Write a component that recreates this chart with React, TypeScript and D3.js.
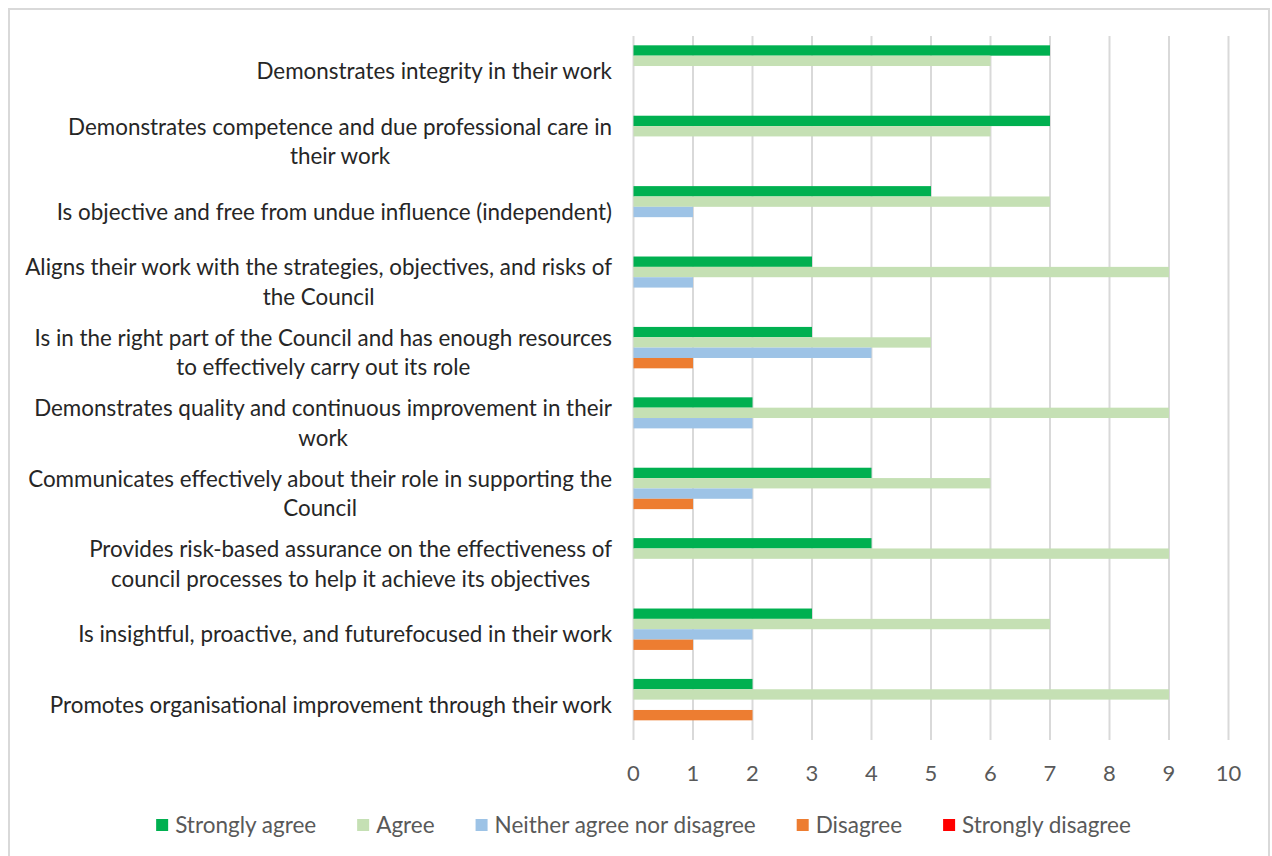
import React, { useEffect, useRef } from "react";
import * as d3 from "d3";

const categories: string[] = [
  "Demonstrates integrity in their work",
  "Demonstrates competence and due professional care in\ntheir work",
  "Is objective and free from undue influence (independent)",
  "Aligns their work with the strategies, objectives, and risks of\nthe Council",
  "Is in the right part of the Council and has enough resources\nto effectively carry out its role",
  "Demonstrates quality and continuous improvement in their\nwork",
  "Communicates effectively about their role in supporting the\nCouncil",
  "Provides risk-based assurance on the effectiveness of\ncouncil processes to help it achieve its objectives",
  "Is insightful, proactive, and futurefocused in their work",
  "Promotes organisational improvement through their work",
];

const seriesNames: string[] = [
  "Strongly agree",
  "Agree",
  "Neither agree nor disagree",
  "Disagree",
  "Strongly disagree",
];
const seriesColors: string[] = ["#00B050", "#C5E0B4", "#9DC3E6", "#ED7D31", "#FF0000"];

const stronglyAgree: number[] = [7, 7, 5, 3, 3, 2, 4, 4, 3, 2];
const agree: number[] = [6, 6, 7, 9, 5, 9, 6, 9, 7, 9];
const neither: number[] = [0, 0, 1, 1, 4, 2, 2, 0, 2, 0];
const disagree: number[] = [0, 0, 0, 0, 1, 0, 1, 0, 1, 2];
const stronglyDisagree: number[] = [0, 0, 0, 0, 0, 0, 0, 0, 0, 0];

const tickValues: number[] = [0, 1, 2, 3, 4, 5, 6, 7, 8, 9, 10];

const FONT = "Lato, 'Liberation Sans', sans-serif";

export default function App() {
  const ref = useRef<SVGSVGElement>(null);

  useEffect(() => {
    const svg = d3.select(ref.current!);
    svg.selectAll("*").remove();

    const seriesValues = [stronglyAgree, agree, neither, disagree, stronglyDisagree];

    svg.append("rect").attr("x", 0).attr("y", 0).attr("width", 1272).attr("height", 856).attr("fill", "#fff");
    svg
      .append("rect")
      .attr("x", 9)
      .attr("y", 9)
      .attr("width", 1260)
      .attr("height", 860)
      .attr("fill", "#fff")
      .attr("stroke", "#d9d9d9")
      .attr("stroke-width", 2);

    const x = d3.scaleLinear().domain([0, 10]).range([633.5, 1228.5]);
    const y = d3.scaleBand<string>().domain(categories).range([36, 740]).padding(0);
    const inner = d3
      .scaleBand<string>()
      .domain(seriesNames)
      .range([0, y.bandwidth()])
      .paddingInner(0)
      .paddingOuter(0.9);

    // gridlines
    svg
      .append("g")
      .selectAll("line")
      .data(tickValues)
      .join("line")
      .attr("x1", (d) => x(d))
      .attr("x2", (d) => x(d))
      .attr("y1", 36)
      .attr("y2", 740)
      .attr("stroke", "#d9d9d9")
      .attr("stroke-width", 2);

    // bars
    const g = svg.append("g");
    categories.forEach((c, ci) => {
      seriesNames.forEach((s, si) => {
        const v = seriesValues[si][ci];
        if (v <= 0) return;
        g.append("rect")
          .attr("x", x(0))
          .attr("y", (y(c) as number) + (inner(s) as number))
          .attr("width", x(v) - x(0))
          .attr("height", inner.bandwidth())
          .attr("fill", seriesColors[si]);
      });
    });

    // tick labels
    svg
      .append("g")
      .selectAll("text")
      .data(tickValues)
      .join("text")
      .attr("x", (d) => x(d))
      .attr("y", 781)
      .attr("text-anchor", "middle")
      .attr("font-family", FONT)
      .attr("font-size", 22)
      .attr("fill", "#595959")
      .text((d) => String(d));

    // category labels
    const lg = svg.append("g");
    categories.forEach((c) => {
      const lines = c.split("\n");
      const cy = (y(c) as number) + y.bandwidth() / 2;
      const lh = 29.5;
      const texts = lines.map((ln, i) =>
        lg
          .append("text")
          .attr("y", cy + (i - (lines.length - 1) / 2) * lh)
          .attr("dy", "0.35em")
          .attr("text-anchor", "middle")
          .attr("font-family", FONT)
          .attr("font-size", 22.4)
          .attr("fill", "#262626")
          .text(ln)
      );
      const widths = texts.map((t) => (t.node() as SVGTextElement).getComputedTextLength());
      const maxW = Math.max(...widths);
      texts.forEach((t) => t.attr("x", 612 - maxW / 2));
    });

    // legend
    const leg = svg.append("g");
    const items = seriesNames.map((s, i) => {
      const item = leg.append("g");
      item.append("rect").attr("x", 0).attr("y", -6).attr("width", 12).attr("height", 12).attr("fill", seriesColors[i]);
      const t = item
        .append("text")
        .attr("x", 19)
        .attr("dy", "0.35em")
        .attr("font-family", FONT)
        .attr("font-size", 22.5)
        .attr("fill", "#595959")
        .text(s);
      const w = 19 + (t.node() as SVGTextElement).getComputedTextLength();
      return { item, w };
    });
    const gap = 41;
    const total = items.reduce((a, b) => a + b.w, 0) + gap * (items.length - 1);
    let cx = 643.5 - total / 2;
    items.forEach(({ item, w }) => {
      item.attr("transform", `translate(${cx},825)`);
      cx += w + gap;
    });
  }, []);

  return (
    <svg
      ref={ref}
      width={1272}
      height={856}
      style={{ position: "absolute", left: 0, top: 0, display: "block" }}
    />
  );
}
